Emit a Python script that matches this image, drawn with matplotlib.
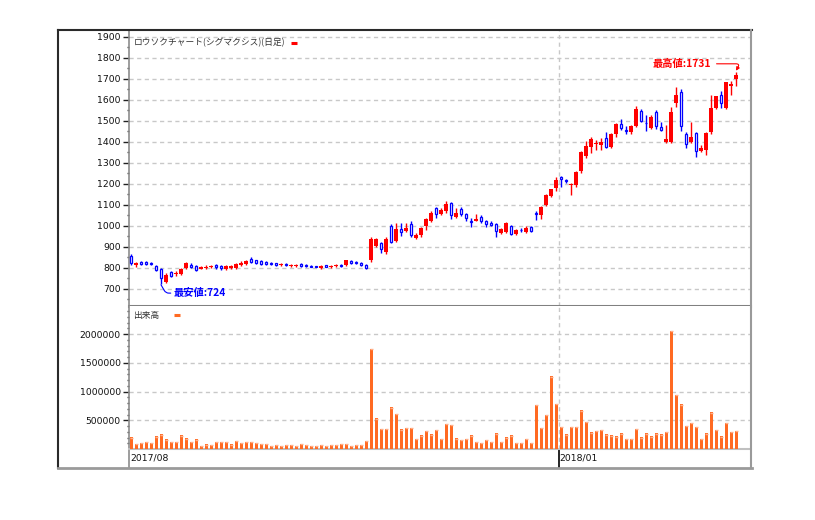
import numpy as np
import matplotlib
matplotlib.use("Agg")
import matplotlib.pyplot as plt
from matplotlib.lines import Line2D
from matplotlib.ticker import MultipleLocator, FixedLocator

JP = ['Noto Sans CJK JP', 'DejaVu Sans']

# ---- データ (日足, 2017/08 - 2018) ----
opens = [858, 812, 830, 828, 823, 810, 796, 732, 780, 771,
         772, 800, 815, 808, 796, 800, 803, 813, 808, 797,
         802, 800, 816, 820, 845, 836, 832, 830, 826, 822,
         812, 818, 810, 811, 818, 814, 810, 806, 801, 812,
         806, 808, 815, 812, 835, 829, 826, 814, 836, 906,
         921, 874, 1000, 930, 987, 978, 1011, 945, 955, 998,
         1024, 1084, 1058, 1070, 1110, 1041, 1081, 1059, 1022, 1025,
         1041, 1022, 1016, 1008, 968, 973, 1002, 963, 982, 971,
         997, 1060, 1050, 1099, 1142, 1180, 1235, 1218, 1196, 1193,
         1262, 1333, 1378, 1392, 1384, 1417, 1375, 1438, 1484, 1456,
         1446, 1476, 1549, 1491, 1465, 1543, 1473, 1398, 1402, 1584,
         1640, 1436, 1402, 1441, 1358, 1362, 1446, 1560, 1622, 1560,
         1668, 1698]
highs = [865, 830, 834, 831, 828, 815, 800, 775, 787, 784,
         799, 828, 822, 812, 808, 812, 816, 820, 815, 813,
         815, 823, 831, 838, 850, 840, 836, 834, 830, 826,
         824, 824, 820, 818, 823, 820, 814, 808, 812, 816,
         814, 818, 820, 838, 840, 833, 830, 818, 948, 945,
         925, 946, 1008, 1013, 1013, 1012, 1022, 967, 995, 1038,
         1070, 1089, 1085, 1121, 1116, 1085, 1088, 1064, 1038, 1059,
         1052, 1029, 1022, 1013, 992, 1020, 1006, 985, 990, 999,
         1000, 1071, 1094, 1152, 1178, 1235, 1240, 1226, 1206, 1262,
         1358, 1406, 1422, 1410, 1421, 1449, 1442, 1490, 1508, 1475,
         1480, 1571, 1556, 1529, 1530, 1552, 1495, 1481, 1568, 1663,
         1651, 1449, 1497, 1449, 1385, 1449, 1625, 1621, 1644, 1686,
         1688, 1731]
lows = [815, 805, 812, 815, 814, 785, 724, 728, 757, 762,
        768, 795, 800, 786, 793, 795, 798, 797, 792, 792,
        797, 796, 810, 815, 825, 820, 815, 814, 813, 810,
        808, 808, 806, 806, 806, 804, 804, 803, 797, 804,
        802, 804, 806, 810, 818, 817, 811, 795, 829, 900,
        873, 868, 920, 925, 954, 970, 949, 940, 948, 980,
        1018, 1040, 1052, 1060, 1032, 1036, 1048, 1025, 994, 1022,
        1014, 995, 998, 946, 962, 968, 957, 958, 970, 965,
        972, 1029, 1032, 1095, 1138, 1168, 1187, 1203, 1148, 1185,
        1252, 1325, 1349, 1362, 1362, 1370, 1370, 1425, 1457, 1440,
        1440, 1470, 1494, 1454, 1460, 1460, 1452, 1394, 1394, 1568,
        1454, 1370, 1396, 1330, 1350, 1338, 1437, 1555, 1560, 1558,
        1624, 1667]
closes = [822, 824, 818, 820, 819, 792, 750, 768, 764, 775,
          796, 822, 806, 791, 803, 806, 810, 804, 798, 808,
          808, 820, 826, 833, 830, 826, 820, 818, 818, 814,
          818, 813, 816, 815, 810, 808, 806, 805, 809, 806,
          811, 815, 810, 836, 823, 822, 814, 798, 937, 936,
          888, 940, 924, 986, 971, 992, 958, 957, 989, 1032,
          1064, 1059, 1077, 1104, 1054, 1063, 1057, 1040, 1019, 1033,
          1025, 1010, 1003, 976, 987, 1016, 962, 979, 980, 992,
          976, 1056, 1089, 1148, 1174, 1218, 1223, 1212, 1201, 1256,
          1352, 1381, 1415, 1396, 1400, 1377, 1437, 1486, 1467, 1453,
          1476, 1557, 1498, 1488, 1521, 1476, 1455, 1413, 1541, 1624,
          1476, 1388, 1424, 1358, 1369, 1441, 1560, 1618, 1585, 1684,
          1674, 1718]
volumes = [203, 87, 105, 122, 105, 221, 256, 169, 122, 122,
           238, 186, 122, 169, 52, 81, 70, 122, 122, 122,
           81, 139, 105, 122, 122, 105, 87, 87, 52, 70,
           52, 70, 70, 52, 87, 70, 52, 52, 70, 52,
           70, 70, 87, 87, 52, 70, 70, 139, 1748, 534,
           354, 354, 726, 610, 343, 372, 372, 174, 238, 319,
           256, 337, 174, 441, 424, 186, 157, 174, 238, 122,
           105, 157, 122, 273, 122, 203, 238, 105, 105, 174,
           105, 767, 372, 592, 1266, 784, 383, 256, 389, 389,
           674, 470, 291, 319, 337, 256, 238, 221, 273, 174,
           174, 354, 203, 273, 221, 273, 256, 302, 2061, 941,
           778, 406, 453, 389, 174, 273, 639, 337, 221, 453,
           302, 319]
volumes = [v * 1000 for v in volumes]
x_labels = ['2017/08', '2018/01']
x_label_pos = [-0.3, 85.5]

n = len(closes)
idx = np.arange(n)
o = np.array(opens); h = np.array(highs); l = np.array(lows); c = np.array(closes)
up = c >= o

W, H = 815, 520
fig = plt.figure(figsize=(W / 100, H / 100), dpi=100)
fig.patch.set_facecolor('white')

def box(x0, y0, x1, y1):
    return [x0 / W, 1 - y1 / H, (x1 - x0) / W, (y1 - y0) / H]

ax1 = fig.add_axes(box(129, 30, 750, 306))
ax2 = fig.add_axes(box(129, 306, 750, 449))

grid_kw = dict(color='#c8c8c8', lw=1.0, ls=(0, (3, 2.5)))
for ax in (ax1, ax2):
    ax.set_xlim(-0.4, 123.8)
    ax.set_facecolor('white')
    ax.set_xticks([])
    ax.yaxis.grid(True, **grid_kw)
    ax.set_axisbelow(True)
    ax.axvline(85.5, **grid_kw)
    for s in ('top', 'right'):
        ax.spines[s].set_visible(False)
    ax.spines['left'].set_color('#8c8c8c')
    ax.spines['left'].set_linewidth(1.2)
    ax.tick_params(axis='y', which='major', length=4, width=1, color='#222222',
                   labelsize=6.7, pad=2, labelcolor='#111111')
    ax.tick_params(axis='y', which='minor', length=1.5, width=1, color='#444444')

# ---- ローソク足 ----
ax1.set_ylim(619, 1933)
ax1.yaxis.set_minor_locator(MultipleLocator(50))
ax1.set_yticks(np.arange(700, 1901, 100))
ax1.spines['bottom'].set_color('#808080')
ax1.spines['bottom'].set_linewidth(2.2)

red, blue = '#ff0000', '#0000ff'
ax1.vlines(idx[up], l[up], h[up], color=red, lw=1.0, zorder=2)
ax1.vlines(idx[~up], l[~up], h[~up], color=blue, lw=1.0, zorder=2)
ax1.bar(idx[up], np.maximum(c[up] - o[up], 3), bottom=o[up], width=0.66,
        color=red, lw=0, zorder=3)
ax1.bar(idx[~up], np.maximum(o[~up] - c[~up], 3), bottom=c[~up], width=0.55,
        color='white', edgecolor=blue, lw=0.9, zorder=3)

ax1.text(0.5, 1872, 'ロウソクチャート(シグマクシス)(日足)', fontsize=6.3,
         family=JP, color='#333333', va='center', ha='left')
ax1.plot([32.0, 33.2], [1872, 1872], color=red, lw=2.2, solid_capstyle='butt')

imax = int(np.argmax(h)); imin = int(np.argmin(l))
ax1.annotate(f'最高値:{h[imax]}', xy=(imax, h[imax] + 8), xytext=(-18, 5),
             textcoords='offset points', ha='right', va='center', fontsize=7.4,
             fontweight='bold', family=JP, color=red,
             arrowprops=dict(arrowstyle='-|>', color=red, lw=0.8,
                             mutation_scale=5, shrinkA=2, shrinkB=0,
                             connectionstyle='angle,angleA=0,angleB=60,rad=4'))
ax1.annotate(f'最安値:{l[imin]}', xy=(imin, l[imin] - 4), xytext=(9, -6),
             textcoords='offset points', ha='left', va='center', fontsize=7.4,
             fontweight='bold', family=JP, color=blue,
             arrowprops=dict(arrowstyle='-', color=blue, lw=0.8,
                             shrinkA=0, shrinkB=0,
                             connectionstyle='angle,angleA=0,angleB=-60,rad=3'))

# ---- 出来高 ----
ax2.set_ylim(0, 2.491e6)
ax2.set_yticks([500000, 1000000, 1500000, 2000000])
ax2.set_yticklabels(['500000', '1000000', '1500000', '2000000'])
ax2.yaxis.set_minor_locator(FixedLocator(np.arange(100000, 2400001, 100000)))
ax2.spines['bottom'].set_color('#c0c0c0')
ax2.spines['bottom'].set_linewidth(1.5)
vol = np.array(volumes, dtype=float)
ax2.bar(idx, vol, width=0.6, color='#ff6a22', lw=0, zorder=3)
ax2.hlines(vol - 8000, idx - 0.3, idx + 0.3, color='#ffb08a', lw=1.0, zorder=4)
ax2.text(0.5, 2.33e6, '出来高', fontsize=6.3, family=JP, color='#333333',
         va='center', ha='left')
ax2.plot([8.6, 9.8], [2.33e6, 2.33e6], color='#ff6a22', lw=2.2, solid_capstyle='butt')

tr = ax2.get_xaxis_transform()
for pos, lab in zip(x_label_pos, x_labels):
    ax2.text(pos + 0.1, -0.03, lab, transform=tr, fontsize=6.7, ha='left',
             va='top', color='#111111')
ax2.plot([85.5, 85.5], [0, -0.135], transform=tr, color='black', lw=1.2,
         clip_on=False)
ax2.plot([-0.4, -0.4], [0, -0.135], transform=tr, color='#8c8c8c', lw=1.2,
         clip_on=False)

# ---- 外枠 ----
fig.add_artist(Line2D([58 / W, 58 / W], [1 - 468 / H, 1 - 30 / H], color='#2a2a2a', lw=1.5))
fig.add_artist(Line2D([58 / W, 752 / W], [1 - 30 / H, 1 - 30 / H], color='#2a2a2a', lw=1.5))
fig.add_artist(Line2D([751 / W, 751 / W], [1 - 468 / H, 1 - 30 / H], color='#9a9a9a', lw=1.5))
fig.add_artist(Line2D([58 / W, 752 / W], [1 - 468 / H, 1 - 468 / H], color='#9a9a9a', lw=2.0))

fig.savefig('out.png', dpi=100, facecolor='white')
